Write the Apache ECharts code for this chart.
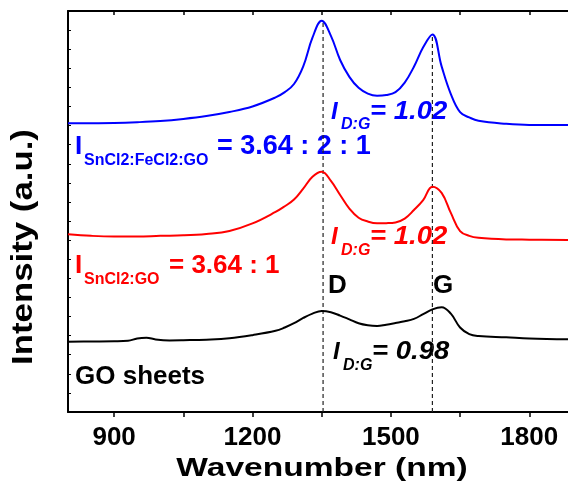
<!DOCTYPE html>
<html>
<head>
<meta charset="utf-8">
<script src="https://cdn.jsdelivr.net/npm/echarts@6/dist/echarts.min.js"></script>
<style>
  html, body { margin: 0; padding: 0; background: #fff; }
  #main { width: 568px; height: 490px; }
</style>
</head>
<body>
<div id="main"></div>
<script>
// 拉曼光谱数据
var goX = [800, 850, 900, 930, 950, 970, 990, 1020, 1050, 1100, 1150, 1200, 1250, 1270, 1290, 1310, 1330, 1350, 1370, 1390, 1410, 1430, 1450, 1470, 1490, 1510, 1530, 1550, 1570, 1590, 1610, 1630, 1650, 1670, 1690, 1750, 1800, 1884];
var goY = [73.6, 73.8, 74.0, 74.5, 77.0, 77.8, 76.0, 75.0, 75.2, 75.8, 77.2, 80.5, 85.0, 88.5, 93.0, 98.5, 103.0, 105.8, 104.5, 101.0, 97.0, 92.9, 90.8, 90.1, 91.5, 93.2, 95.0, 97.5, 102.5, 107.5, 109.7, 103.0, 88.5, 81.5, 79.5, 78.2, 77.0, 76.1];

var snX = [800, 850, 900, 950, 1000, 1050, 1100, 1150, 1200, 1250, 1270, 1290, 1310, 1330, 1350, 1370, 1390, 1410, 1430, 1450, 1470, 1490, 1510, 1530, 1550, 1570, 1590, 1610, 1630, 1650, 1670, 1690, 1750, 1800, 1884];
var snY = [186.1, 184.5, 183.8, 183.8, 184.5, 185.0, 186.5, 189.6, 197.5, 209.5, 215.5, 222.5, 234.0, 246.5, 251.7, 242.0, 227.3, 213.0, 203.5, 199.5, 197.7, 197.8, 198.5, 202.5, 211.5, 222.0, 236.0, 229.5, 208.5, 189.5, 184.5, 182.5, 180.8, 180.5, 180.2];

var feX = [800, 850, 900, 950, 1000, 1050, 1100, 1150, 1200, 1250, 1270, 1290, 1310, 1330, 1350, 1370, 1390, 1410, 1430, 1450, 1470, 1490, 1510, 1530, 1550, 1570, 1590, 1610, 1630, 1650, 1670, 1690, 1750, 1800, 1884];
var feY = [302.4, 302.5, 302.7, 303.5, 304.8, 307.0, 310.0, 314.2, 320.0, 329.5, 335.0, 343.5, 362.0, 392.0, 409.8, 394.0, 368.7, 351.0, 339.5, 333.5, 331.3, 332.0, 335.0, 345.0, 361.7, 382.0, 395.5, 362.0, 333.0, 314.0, 308.5, 305.0, 301.8, 300.6, 300.6];

// D / G 峰位置虚线
var dPos = 1353, dTop = 410;
var gPos = 1590, gTop = 396;

var tickVals = [900, 1050, 1200, 1350, 1500, 1650, 1800];
var labelVals = [900, 1200, 1500, 1800];

function pairs(xs, ys) {
  var out = [];
  for (var i = 0; i < xs.length; i++) out.push([xs[i], ys[i]]);
  return out;
}

var FONT = 'Liberation Sans, Arial, sans-serif';

function txt(x, y, s, size, color, opt) {
  opt = opt || {};
  return {
    type: 'text',
    x: x, y: y,
    rotation: opt.rotation || 0,
    scaleX: opt.scaleX || 1,
    style: {
      x: 0, y: 0,
      text: s,
      fill: color,
      font: (opt.italic ? 'italic ' : '') + 'bold ' + size + 'px ' + FONT,
      align: opt.align || 'left',
      verticalAlign: 'middle'
    }
  };
}

var myChart = echarts.init(document.getElementById('main'));

var option = {
  animation: false,
  grid: { left: 68, top: 11, right: 0, bottom: 78 },
  xAxis: [
    {
      type: 'value', min: 800, max: 1884,
      axisLine: { lineStyle: { color: '#000', width: 2 } },
      axisTick: { inside: false, length: 5, customValues: tickVals, lineStyle: { color: '#000', width: 1.5 } },
      axisLabel: {
        customValues: labelVals, margin: 13, color: '#000', fontSize: 26, fontWeight: 'bold', fontFamily: FONT,
        formatter: function (v) { return String(v); }
      },
      splitLine: { show: false }
    },
    {
      type: 'value', min: 800, max: 1884, position: 'top',
      axisLine: { lineStyle: { color: '#000', width: 2 } },
      axisTick: { inside: true, length: 4, customValues: tickVals, lineStyle: { color: '#000', width: 1.5 } },
      axisLabel: { show: false },
      splitLine: { show: false }
    }
  ],
  yAxis: {
    type: 'value', min: 0, max: 420, interval: 20,
    axisLine: { show: true, lineStyle: { color: '#000', width: 2 } },
    axisTick: { show: true, inside: true, length: 3, lineStyle: { color: '#000', width: 1 } },
    axisLabel: { show: false },
    splitLine: { show: false }
  },
  series: [
    { type: 'line', data: [[dPos, 0], [dPos, dTop]], symbol: 'none', z: 1,
      lineStyle: { color: '#222', width: 1.2, type: [4, 3] } },
    { type: 'line', data: [[gPos, 0], [gPos, gTop]], symbol: 'none', z: 1,
      lineStyle: { color: '#222', width: 1.2, type: [4, 3] } },
    { name: 'GO', type: 'line', data: pairs(goX, goY), symbol: 'none', smooth: 0.4,
      lineStyle: { color: '#000', width: 2 } },
    { name: 'SnCl2:GO', type: 'line', data: pairs(snX, snY), symbol: 'none', smooth: 0.4,
      lineStyle: { color: '#ff0000', width: 2 } },
    { name: 'SnCl2:FeCl2:GO', type: 'line', data: pairs(feX, feY), symbol: 'none', smooth: 0.4,
      lineStyle: { color: '#0000ff', width: 2 } }
  ],
  graphic: [
    // 轴标题
    txt(24, 247, 'Intensity (a.u.)', 30, '#000', { rotation: Math.PI / 2, align: 'center', scaleX: 1.16 }),
    txt(322, 469, 'Wavenumber (nm)', 26, '#000', { align: 'center', scaleX: 1.29 }),
    // 蓝色
    txt(75, 147, 'I', 26, '#0000ff'),
    txt(84, 161, 'SnCl2:FeCl2:GO', 16, '#0000ff'),
    txt(217, 147, '= 3.64 : 2 : 1', 27, '#0000ff'),
    txt(331, 112, 'I', 24, '#0000ff', { italic: true }),
    txt(341, 125, 'D:G', 16, '#0000ff', { italic: true }),
    txt(370, 112, '= 1.02', 25, '#0000ff', { italic: true, scaleX: 1.1 }),
    // 红色
    txt(75, 266, 'I', 26, '#ff0000'),
    txt(84, 280, 'SnCl2:GO', 16, '#ff0000'),
    txt(169, 266, '= 3.64 : 1', 26, '#ff0000'),
    txt(331, 237, 'I', 24, '#ff0000', { italic: true }),
    txt(341, 251, 'D:G', 16, '#ff0000', { italic: true }),
    txt(370, 237, '= 1.02', 25, '#ff0000', { italic: true, scaleX: 1.1 }),
    // 黑色
    txt(328, 286, 'D', 26, '#000'),
    txt(433, 286, 'G', 26, '#000'),
    txt(333, 352, 'I', 24, '#000', { italic: true }),
    txt(343, 366, 'D:G', 16, '#000', { italic: true }),
    txt(372, 352, '= 0.98', 25, '#000', { italic: true, scaleX: 1.1 }),
    txt(75, 377, 'GO sheets', 26, '#000')
  ]
};

myChart.setOption(option);
window.addEventListener('resize', function () {
  myChart.resize();
});
</script>
</body>
</html>
